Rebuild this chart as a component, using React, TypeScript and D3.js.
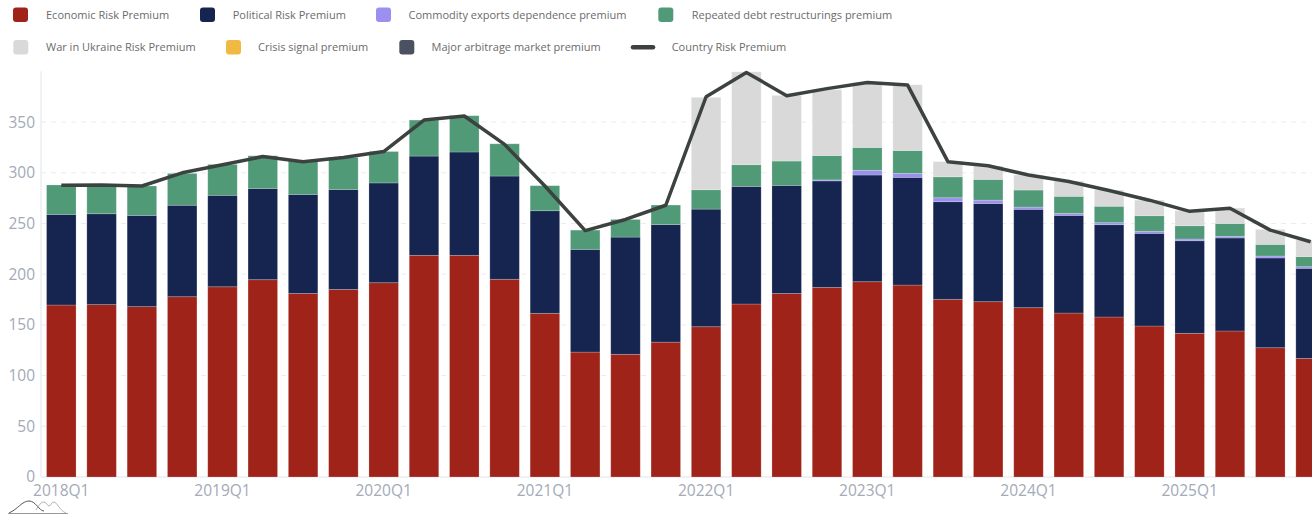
import React, { useEffect } from "react";
import * as d3 from "d3";

const quarters: string[] = [];
for (let y = 2018; y <= 2025; y++) for (let q = 1; q <= 4; q++) quarters.push(`${y}Q${q}`);

const economic = [169.6, 170, 168, 177.8, 187.6, 194.6, 181, 185, 191.6, 218.6, 218.6, 195, 161.4, 123.2, 121, 133, 148.2, 170.6, 181, 187, 192.6, 189.3, 175.2, 172.9, 167, 161.7, 157.8, 148.9, 141.7, 144, 127.5, 117];
const political = [89.4, 89.6, 90, 90.2, 90.2, 90, 97.7, 98.6, 98.4, 97.9, 101.9, 101.8, 101.2, 101.3, 115.6, 116, 116, 116, 106.6, 105, 105.2, 106.2, 96.3, 96.9, 97, 96.3, 91, 91.4, 91.3, 91.7, 88.5, 88.8];
const commodity = [0, 0, 0, 0, 0, 0, 0, 0, 0, 0, 0, 0, 0, 0, 0, 0, 0, 0, 0, 1, 4.6, 3.9, 3.9, 3.2, 2.2, 2, 2, 2, 1.7, 1.6, 1.9, 1.6];
const debtRestructuring = [29, 27.4, 29, 31.4, 30.5, 32.2, 32.9, 31.6, 31, 35.5, 35.8, 31.8, 24.7, 19, 17.4, 19.2, 19.1, 21.4, 24, 24, 22.6, 22.6, 20.6, 20.5, 16.8, 16.8, 16.2, 15.4, 13.1, 12.7, 11.5, 9.9];
const warUkraine = [0, 0, 0, 0, 0, 0, 0, 0, 0, 0, 0, 0, 0, 0, 0, 0, 91.1, 91.6, 64.7, 65, 64, 64.8, 15, 13.1, 14.8, 15, 16, 15.3, 14.8, 15.2, 14.8, 16.4];
const crisisSignal = new Array(32).fill(0);
const majorArbitrage = new Array(32).fill(0);
const countryRisk = [287.6, 288, 287, 300, 308, 316, 311, 315, 321, 352, 356, 328, 287, 243, 254, 268, 375, 399, 376, 383, 389, 386.5, 311, 307, 297.8, 291.5, 282.5, 273, 262, 265, 243.5, 232];

const yTicks = [0, 50, 100, 150, 200, 250, 300, 350];
const xTickLabels = quarters.filter((q) => q.endsWith("Q1"));

const seriesNames = [
  "Economic Risk Premium",
  "Political Risk Premium",
  "Commodity exports dependence premium",
  "Repeated debt restructurings premium",
  "War in Ukraine Risk Premium",
  "Crisis signal premium",
  "Major arbitrage market premium",
];
const seriesColors = ["#a0231a", "#15254f", "#9b8ff0", "#519a78", "#d9d9d9", "#f0b942", "#4a5160"];
const seriesValues = [economic, political, commodity, debtRestructuring, warUkraine, crisisSignal, majorArbitrage];
const lineName = "Country Risk Premium";
const lineColor = "#3c423f";

export default function App() {
  useEffect(() => {
    document.body.style.margin = "0";
  }, []);

  const W = 1312;
  const H = 515;
  const left = 41.15;
  const step = 40.3;
  const x = d3
    .scaleBand<string>()
    .domain(quarters)
    .range([left, left + step * quarters.length])
    .paddingInner(0.268)
    .paddingOuter(0.134);
  const y = d3.scaleLinear().domain([0, 400]).range([477, 71.4]);

  const rows = quarters.map((q, i) => {
    const r: any = { q };
    seriesNames.forEach((n, k) => (r[n] = seriesValues[k][i]));
    return r;
  });
  const stacked = d3.stack<any>().keys(seriesNames)(rows);

  const line = d3
    .line<number>()
    .x((_, i) => (x(quarters[i]) as number) + x.bandwidth() / 2)
    .y((v) => y(v));

  const font = "'Open Sans', 'Noto Sans', sans-serif";

  const legendRow1 = [
    { i: 0, sx: 13, tx: 46 },
    { i: 1, sx: 200, tx: 232.7 },
    { i: 2, sx: 376, tx: 408.5 },
    { i: 3, sx: 658.3, tx: 691.7 },
  ];
  const legendRow2 = [
    { i: 4, sx: 13.3, tx: 46 },
    { i: 5, sx: 226, tx: 258 },
    { i: 6, sx: 399.3, tx: 431.5 },
  ];

  return (
    <svg width={W} height={H} style={{ position: "absolute", left: 0, top: 0, display: "block" }} fontFamily={font}>
      {/* grid */}
      {yTicks.map((t) => (
        <line
          key={"g" + t}
          x1={left}
          x2={W}
          y1={y(t)}
          y2={y(t)}
          stroke={t === 0 ? "#e0e3e8" : "#ececec"}
          strokeWidth={1}
          strokeDasharray={t === 0 ? undefined : "5 5"}
        />
      ))}
      <line x1={41} x2={41} y1={y(400)} y2={y(0)} stroke="#e3e5ea" strokeWidth={1} />
      {yTicks.map((t) => (
        <text key={"yl" + t} x={35} y={y(t)} dy="0.35em" textAnchor="end" fontSize={15.5} fill="#a3aab8">
          {t}
        </text>
      ))}
      {xTickLabels.map((q) => (
        <text
          key={"xl" + q}
          x={(x(q) as number) + x.bandwidth() / 2}
          y={491}
          dy="0.35em"
          textAnchor="middle"
          fontSize={15.5}
          fill="#a3aab8"
        >
          {q}
        </text>
      ))}
      {/* bars */}
      {stacked.map((s, k) => (
        <g key={"s" + k} fill={seriesColors[k]}>
          {s.map((d, i) =>
            d[1] - d[0] > 0 ? (
              <rect
                key={i}
                x={x(quarters[i])}
                y={y(d[1])}
                width={x.bandwidth()}
                height={y(d[0]) - y(d[1])}
                stroke="rgba(255,255,255,0.25)"
                strokeWidth={0.8}
              />
            ) : null
          )}
        </g>
      ))}
      {/* line */}
      <path d={line(countryRisk) || ""} fill="none" stroke={lineColor} strokeWidth={3.5} strokeLinejoin="round" />
      {/* legend */}
      {legendRow1.concat(legendRow2).map((l, idx) => {
        const cy = idx < 4 ? 14.7 : 47.3;
        return (
          <g key={"lg" + idx}>
            <rect x={l.sx} y={cy - 7.3} width={15} height={14.6} rx={3} fill={seriesColors[l.i]} />
            <text x={l.tx} y={cy} dy="0.35em" fontSize={11} fill="#6b6b6b">
              {seriesNames[l.i]}
            </text>
          </g>
        );
      })}
      <line x1={633} x2={653} y1={47.3} y2={47.3} stroke={lineColor} strokeWidth={4.5} strokeLinecap="round" />
      <text x={671.7} y={47.3} dy="0.35em" fontSize={11} fill="#6b6b6b">
        {lineName}
      </text>
      {/* decorative icon bottom-left */}
      <g fill="none" strokeWidth={1}>
        <path d="M 9 513 C 18 509, 22 501, 29 501 C 36 501, 39 511, 44 511" stroke="#555" />
        <path d="M 36 510 C 39 505, 41 502, 44 502 C 47 502, 47 506, 49 506 C 51 506, 51 502, 54 502 C 57 502, 60 511, 66 513" stroke="#b5b5b5" />
        <line x1={8} x2={68} y1={513.5} y2={513.5} stroke="#999" />
      </g>
    </svg>
  );
}
